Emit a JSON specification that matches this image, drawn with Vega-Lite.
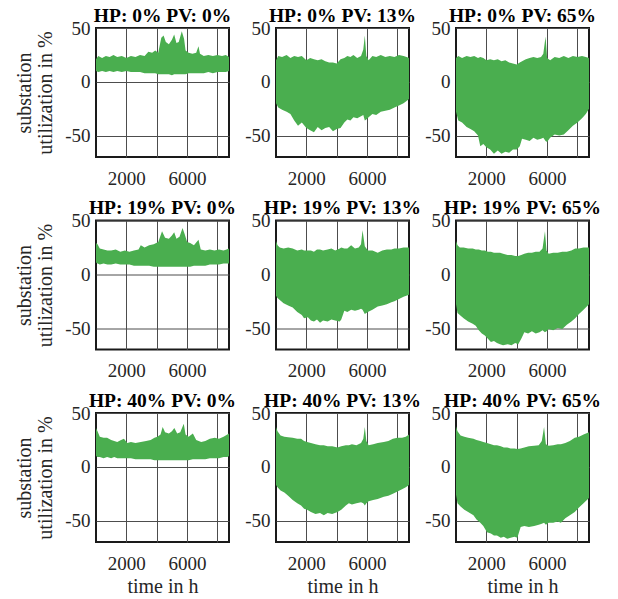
{
"$schema": "https://vega.github.io/schema/vega-lite/v6.json",
"padding": {"left": 13, "top": 4, "right": 5, "bottom": 3},
"background": "white",
"bounds": "flush",
"columns": 3,
"spacing": {"row": 63.5, "column": 47},
"datasets": {
"p1": [{"t":0,"hi":21,"lo":10},{"t":150,"hi":24,"lo":9},{"t":400,"hi":22,"lo":10},{"t":650,"hi":24,"lo":9},{"t":900,"hi":23,"lo":10},{"t":1150,"hi":25,"lo":9},{"t":1400,"hi":23,"lo":10},{"t":1700,"hi":24,"lo":9},{"t":2000,"hi":22,"lo":10},{"t":2300,"hi":24,"lo":9},{"t":2600,"hi":23,"lo":9},{"t":2900,"hi":25,"lo":9},{"t":3200,"hi":24,"lo":8},{"t":3450,"hi":28,"lo":8},{"t":3700,"hi":27,"lo":8},{"t":3900,"hi":29,"lo":8},{"t":4100,"hi":27,"lo":7},{"t":4300,"hi":41,"lo":7},{"t":4450,"hi":43,"lo":7},{"t":4600,"hi":37,"lo":7},{"t":4800,"hi":35,"lo":7},{"t":5000,"hi":39,"lo":6},{"t":5150,"hi":44,"lo":7},{"t":5300,"hi":36,"lo":7},{"t":5450,"hi":37,"lo":7},{"t":5650,"hi":47,"lo":7},{"t":5800,"hi":40,"lo":7},{"t":5900,"hi":29,"lo":7},{"t":6100,"hi":27,"lo":8},{"t":6350,"hi":26,"lo":8},{"t":6600,"hi":27,"lo":8},{"t":6750,"hi":33,"lo":8},{"t":6850,"hi":26,"lo":8},{"t":7100,"hi":24,"lo":8},{"t":7400,"hi":25,"lo":9},{"t":7700,"hi":24,"lo":8},{"t":8000,"hi":25,"lo":9},{"t":8300,"hi":24,"lo":9},{"t":8550,"hi":25,"lo":9},{"t":8760,"hi":23,"lo":10}],
"p2": [{"t":0,"hi":20,"lo":-20},{"t":150,"hi":24,"lo":-24},{"t":400,"hi":23,"lo":-26},{"t":700,"hi":25,"lo":-28},{"t":950,"hi":22,"lo":-30},{"t":1200,"hi":24,"lo":-36},{"t":1450,"hi":23,"lo":-41},{"t":1700,"hi":24,"lo":-38},{"t":2000,"hi":20,"lo":-43},{"t":2250,"hi":22,"lo":-45},{"t":2500,"hi":21,"lo":-47},{"t":2750,"hi":20,"lo":-42},{"t":3000,"hi":21,"lo":-45},{"t":3250,"hi":19,"lo":-43},{"t":3500,"hi":18,"lo":-42},{"t":3750,"hi":18,"lo":-46},{"t":4000,"hi":17,"lo":-44},{"t":4250,"hi":21,"lo":-43},{"t":4500,"hi":22,"lo":-38},{"t":4700,"hi":24,"lo":-35},{"t":4900,"hi":23,"lo":-36},{"t":5100,"hi":25,"lo":-33},{"t":5350,"hi":22,"lo":-34},{"t":5600,"hi":24,"lo":-32},{"t":5750,"hi":30,"lo":-31},{"t":5850,"hi":43,"lo":-36},{"t":5950,"hi":24,"lo":-35},{"t":6100,"hi":20,"lo":-33},{"t":6350,"hi":24,"lo":-30},{"t":6600,"hi":23,"lo":-31},{"t":6900,"hi":25,"lo":-28},{"t":7200,"hi":23,"lo":-27},{"t":7500,"hi":24,"lo":-26},{"t":7800,"hi":23,"lo":-24},{"t":8100,"hi":25,"lo":-22},{"t":8400,"hi":24,"lo":-20},{"t":8600,"hi":23,"lo":-18},{"t":8760,"hi":22,"lo":-16}],
"p3": [{"t":0,"hi":22,"lo":-28},{"t":150,"hi":24,"lo":-36},{"t":400,"hi":22,"lo":-38},{"t":700,"hi":24,"lo":-42},{"t":950,"hi":23,"lo":-44},{"t":1200,"hi":24,"lo":-46},{"t":1450,"hi":22,"lo":-50},{"t":1600,"hi":23,"lo":-60},{"t":1800,"hi":22,"lo":-58},{"t":2000,"hi":20,"lo":-61},{"t":2250,"hi":21,"lo":-63},{"t":2500,"hi":20,"lo":-67},{"t":2750,"hi":21,"lo":-64},{"t":3000,"hi":19,"lo":-67},{"t":3250,"hi":20,"lo":-65},{"t":3500,"hi":18,"lo":-66},{"t":3750,"hi":17,"lo":-63},{"t":4000,"hi":16,"lo":-63},{"t":4200,"hi":18,"lo":-60},{"t":4350,"hi":19,"lo":-53},{"t":4600,"hi":21,"lo":-54},{"t":4850,"hi":22,"lo":-55},{"t":5100,"hi":23,"lo":-52},{"t":5350,"hi":22,"lo":-54},{"t":5600,"hi":23,"lo":-53},{"t":5750,"hi":26,"lo":-52},{"t":5900,"hi":42,"lo":-55},{"t":6000,"hi":22,"lo":-56},{"t":6200,"hi":20,"lo":-52},{"t":6500,"hi":23,"lo":-49},{"t":6800,"hi":22,"lo":-50},{"t":7100,"hi":24,"lo":-49},{"t":7400,"hi":22,"lo":-45},{"t":7700,"hi":24,"lo":-41},{"t":8000,"hi":23,"lo":-38},{"t":8300,"hi":24,"lo":-34},{"t":8550,"hi":23,"lo":-30},{"t":8760,"hi":22,"lo":-25}],
"p4": [{"t":0,"hi":29,"lo":11},{"t":100,"hi":28,"lo":10},{"t":250,"hi":24,"lo":9},{"t":500,"hi":23,"lo":10},{"t":750,"hi":22,"lo":9},{"t":1000,"hi":22,"lo":9},{"t":1300,"hi":23,"lo":10},{"t":1600,"hi":21,"lo":9},{"t":1900,"hi":22,"lo":9},{"t":2200,"hi":21,"lo":9},{"t":2500,"hi":22,"lo":8},{"t":2800,"hi":23,"lo":8},{"t":2950,"hi":27,"lo":8},{"t":3200,"hi":25,"lo":8},{"t":3500,"hi":27,"lo":8},{"t":3800,"hi":28,"lo":7},{"t":4100,"hi":30,"lo":7},{"t":4350,"hi":40,"lo":7},{"t":4550,"hi":34,"lo":7},{"t":4800,"hi":33,"lo":7},{"t":5000,"hi":36,"lo":7},{"t":5150,"hi":39,"lo":7},{"t":5300,"hi":33,"lo":7},{"t":5500,"hi":35,"lo":7},{"t":5700,"hi":43,"lo":7},{"t":5850,"hi":37,"lo":7},{"t":6000,"hi":30,"lo":7},{"t":6200,"hi":29,"lo":7},{"t":6450,"hi":27,"lo":8},{"t":6750,"hi":32,"lo":8},{"t":6900,"hi":23,"lo":8},{"t":7200,"hi":22,"lo":8},{"t":7500,"hi":23,"lo":9},{"t":7800,"hi":22,"lo":9},{"t":8100,"hi":23,"lo":9},{"t":8400,"hi":22,"lo":10},{"t":8600,"hi":23,"lo":10},{"t":8760,"hi":24,"lo":10}],
"p5": [{"t":0,"hi":31,"lo":-20},{"t":100,"hi":27,"lo":-22},{"t":250,"hi":25,"lo":-24},{"t":500,"hi":24,"lo":-27},{"t":800,"hi":25,"lo":-29},{"t":1100,"hi":24,"lo":-31},{"t":1400,"hi":22,"lo":-35},{"t":1700,"hi":23,"lo":-38},{"t":1850,"hi":22,"lo":-41},{"t":2100,"hi":22,"lo":-40},{"t":2300,"hi":22,"lo":-43},{"t":2500,"hi":21,"lo":-44},{"t":2700,"hi":23,"lo":-42},{"t":2900,"hi":23,"lo":-45},{"t":3100,"hi":22,"lo":-43},{"t":3400,"hi":23,"lo":-44},{"t":3650,"hi":24,"lo":-42},{"t":3900,"hi":22,"lo":-43},{"t":4200,"hi":24,"lo":-44},{"t":4300,"hi":25,"lo":-42},{"t":4500,"hi":24,"lo":-34},{"t":4700,"hi":24,"lo":-35},{"t":4950,"hi":27,"lo":-33},{"t":5200,"hi":24,"lo":-34},{"t":5450,"hi":25,"lo":-33},{"t":5600,"hi":28,"lo":-32},{"t":5700,"hi":41,"lo":-33},{"t":5850,"hi":26,"lo":-37},{"t":6050,"hi":22,"lo":-35},{"t":6350,"hi":22,"lo":-33},{"t":6700,"hi":20,"lo":-30},{"t":7000,"hi":22,"lo":-29},{"t":7300,"hi":23,"lo":-28},{"t":7600,"hi":23,"lo":-26},{"t":7800,"hi":24,"lo":-25},{"t":8100,"hi":24,"lo":-23},{"t":8400,"hi":25,"lo":-21},{"t":8760,"hi":25,"lo":-19}],
"p6": [{"t":0,"hi":31,"lo":-28},{"t":100,"hi":27,"lo":-36},{"t":250,"hi":25,"lo":-38},{"t":500,"hi":25,"lo":-41},{"t":800,"hi":24,"lo":-44},{"t":1100,"hi":24,"lo":-46},{"t":1300,"hi":23,"lo":-48},{"t":1500,"hi":23,"lo":-52},{"t":1700,"hi":22,"lo":-55},{"t":1900,"hi":22,"lo":-57},{"t":2100,"hi":21,"lo":-60},{"t":2300,"hi":21,"lo":-63},{"t":2500,"hi":20,"lo":-62},{"t":2700,"hi":20,"lo":-64},{"t":2900,"hi":20,"lo":-65},{"t":3100,"hi":19,"lo":-66},{"t":3400,"hi":18,"lo":-65},{"t":3650,"hi":18,"lo":-66},{"t":3900,"hi":17,"lo":-64},{"t":4100,"hi":17,"lo":-65},{"t":4300,"hi":18,"lo":-60},{"t":4500,"hi":19,"lo":-54},{"t":4750,"hi":20,"lo":-55},{"t":5000,"hi":20,"lo":-53},{"t":5250,"hi":21,"lo":-55},{"t":5500,"hi":21,"lo":-54},{"t":5700,"hi":24,"lo":-52},{"t":5860,"hi":40,"lo":-54},{"t":5960,"hi":22,"lo":-53},{"t":6100,"hi":19,"lo":-51},{"t":6400,"hi":20,"lo":-52},{"t":6700,"hi":20,"lo":-50},{"t":7000,"hi":21,"lo":-51},{"t":7300,"hi":21,"lo":-47},{"t":7600,"hi":22,"lo":-44},{"t":7850,"hi":24,"lo":-41},{"t":8100,"hi":24,"lo":-37},{"t":8400,"hi":25,"lo":-33},{"t":8760,"hi":25,"lo":-28}],
"p7": [{"t":0,"hi":36,"lo":10},{"t":100,"hi":33,"lo":9},{"t":250,"hi":28,"lo":9},{"t":500,"hi":27,"lo":8},{"t":730,"hi":27,"lo":9},{"t":1000,"hi":25,"lo":8},{"t":1200,"hi":24,"lo":9},{"t":1400,"hi":23,"lo":8},{"t":1650,"hi":25,"lo":8},{"t":1840,"hi":26,"lo":8},{"t":2060,"hi":22,"lo":8},{"t":2300,"hi":23,"lo":8},{"t":2600,"hi":22,"lo":7},{"t":2950,"hi":23,"lo":7},{"t":3300,"hi":24,"lo":7},{"t":3600,"hi":25,"lo":7},{"t":3850,"hi":27,"lo":6},{"t":4050,"hi":28,"lo":6},{"t":4250,"hi":30,"lo":6},{"t":4390,"hi":37,"lo":6},{"t":4550,"hi":32,"lo":6},{"t":4800,"hi":31,"lo":6},{"t":5000,"hi":33,"lo":6},{"t":5160,"hi":36,"lo":6},{"t":5350,"hi":31,"lo":6},{"t":5550,"hi":32,"lo":6},{"t":5780,"hi":40,"lo":6},{"t":5900,"hi":30,"lo":6},{"t":6100,"hi":28,"lo":6},{"t":6380,"hi":31,"lo":7},{"t":6600,"hi":25,"lo":7},{"t":6930,"hi":23,"lo":7},{"t":7200,"hi":24,"lo":7},{"t":7500,"hi":26,"lo":8},{"t":7820,"hi":27,"lo":8},{"t":8100,"hi":26,"lo":8},{"t":8400,"hi":28,"lo":9},{"t":8650,"hi":30,"lo":9},{"t":8760,"hi":31,"lo":10}],
"p8": [{"t":0,"hi":37,"lo":-17},{"t":100,"hi":33,"lo":-19},{"t":300,"hi":29,"lo":-22},{"t":550,"hi":28,"lo":-24},{"t":800,"hi":27.5,"lo":-27},{"t":1100,"hi":27,"lo":-31},{"t":1400,"hi":26,"lo":-34},{"t":1650,"hi":26,"lo":-36},{"t":1850,"hi":24,"lo":-39},{"t":2050,"hi":23,"lo":-40},{"t":2300,"hi":22,"lo":-42},{"t":2600,"hi":21,"lo":-44},{"t":2900,"hi":20,"lo":-43},{"t":3150,"hi":20,"lo":-45},{"t":3400,"hi":19,"lo":-43},{"t":3700,"hi":19,"lo":-44},{"t":4050,"hi":18,"lo":-42},{"t":4300,"hi":19,"lo":-40},{"t":4600,"hi":20,"lo":-36},{"t":4800,"hi":20,"lo":-34},{"t":5000,"hi":21,"lo":-35},{"t":5300,"hi":20,"lo":-34},{"t":5600,"hi":22,"lo":-33},{"t":5750,"hi":26,"lo":-34},{"t":5850,"hi":37,"lo":-36},{"t":5950,"hi":24,"lo":-34},{"t":6100,"hi":20,"lo":-32},{"t":6400,"hi":21,"lo":-31},{"t":6700,"hi":22,"lo":-30},{"t":7100,"hi":23,"lo":-28},{"t":7400,"hi":24,"lo":-27},{"t":7700,"hi":26,"lo":-25},{"t":8000,"hi":27,"lo":-23},{"t":8300,"hi":27,"lo":-21},{"t":8550,"hi":28,"lo":-19},{"t":8760,"hi":30,"lo":-17}],
"p9": [{"t":0,"hi":37.6,"lo":-26},{"t":100,"hi":33,"lo":-34},{"t":300,"hi":29,"lo":-37},{"t":550,"hi":28,"lo":-40},{"t":800,"hi":27,"lo":-42},{"t":1150,"hi":26,"lo":-45},{"t":1350,"hi":25,"lo":-49},{"t":1600,"hi":24,"lo":-52},{"t":1800,"hi":23,"lo":-55},{"t":2040,"hi":22,"lo":-61},{"t":2300,"hi":21,"lo":-62},{"t":2500,"hi":20,"lo":-64},{"t":2700,"hi":20,"lo":-64},{"t":2950,"hi":19,"lo":-66},{"t":3150,"hi":18,"lo":-65},{"t":3370,"hi":18,"lo":-67},{"t":3600,"hi":17,"lo":-66},{"t":3850,"hi":17,"lo":-65},{"t":4040,"hi":16.5,"lo":-66},{"t":4260,"hi":17,"lo":-56},{"t":4500,"hi":18,"lo":-55},{"t":4800,"hi":19,"lo":-56},{"t":5150,"hi":19.6,"lo":-55},{"t":5450,"hi":20,"lo":-54},{"t":5650,"hi":24,"lo":-53},{"t":5800,"hi":37,"lo":-52},{"t":5920,"hi":21,"lo":-54},{"t":6100,"hi":19.6,"lo":-52},{"t":6400,"hi":20,"lo":-52},{"t":6700,"hi":21,"lo":-51},{"t":6910,"hi":21,"lo":-52},{"t":7200,"hi":22,"lo":-48},{"t":7500,"hi":24,"lo":-45},{"t":7820,"hi":27,"lo":-42},{"t":8100,"hi":28,"lo":-38},{"t":8400,"hi":30,"lo":-34},{"t":8760,"hi":32,"lo":-29}]
},
"concat": [
{"title": "HP: 0% PV: 0%", "data": {"name": "p1"}, "width": 133, "height": 129, "mark": {"type": "area", "color": "#4aae4f", "opacity": 1},
 "encoding": {"x": {"field": "t", "type": "quantitative", "scale": {"domain": [0, 8760], "nice": false, "zero": false}, "axis": {"values": [2000, 4000, 6000, 8000], "labelExpr": "datum.value == 2000 || datum.value == 6000 ? '' + datum.value : ''", "title": null}},
  "y": {"field": "hi", "type": "quantitative", "scale": {"domain": [-70, 50], "nice": false}, "axis": {"values": [-50, 0, 50], "labelExpr": "'' + datum.value", "title": ["substation", "utilization in %"]}}, "y2": {"field": "lo"}}},
{"title": "HP: 0% PV: 13%", "data": {"name": "p2"}, "width": 133, "height": 129, "mark": {"type": "area", "color": "#4aae4f", "opacity": 1},
 "encoding": {"x": {"field": "t", "type": "quantitative", "scale": {"domain": [0, 8760], "nice": false, "zero": false}, "axis": {"values": [2000, 4000, 6000, 8000], "labelExpr": "datum.value == 2000 || datum.value == 6000 ? '' + datum.value : ''", "title": null}},
  "y": {"field": "hi", "type": "quantitative", "scale": {"domain": [-70, 50], "nice": false}, "axis": {"values": [-50, 0, 50], "labelExpr": "'' + datum.value", "title": null}}, "y2": {"field": "lo"}}},
{"title": "HP: 0% PV: 65%", "data": {"name": "p3"}, "width": 133, "height": 129, "mark": {"type": "area", "color": "#4aae4f", "opacity": 1},
 "encoding": {"x": {"field": "t", "type": "quantitative", "scale": {"domain": [0, 8760], "nice": false, "zero": false}, "axis": {"values": [2000, 4000, 6000, 8000], "labelExpr": "datum.value == 2000 || datum.value == 6000 ? '' + datum.value : ''", "title": null}},
  "y": {"field": "hi", "type": "quantitative", "scale": {"domain": [-70, 50], "nice": false}, "axis": {"values": [-50, 0, 50], "labelExpr": "'' + datum.value", "title": null}}, "y2": {"field": "lo"}}},
{"title": "HP: 19% PV: 0%", "data": {"name": "p4"}, "width": 133, "height": 129, "mark": {"type": "area", "color": "#4aae4f", "opacity": 1},
 "encoding": {"x": {"field": "t", "type": "quantitative", "scale": {"domain": [0, 8760], "nice": false, "zero": false}, "axis": {"values": [2000, 4000, 6000, 8000], "labelExpr": "datum.value == 2000 || datum.value == 6000 ? '' + datum.value : ''", "title": null}},
  "y": {"field": "hi", "type": "quantitative", "scale": {"domain": [-70, 50], "nice": false}, "axis": {"values": [-50, 0, 50], "labelExpr": "'' + datum.value", "title": ["substation", "utilization in %"]}}, "y2": {"field": "lo"}}},
{"title": "HP: 19% PV: 13%", "data": {"name": "p5"}, "width": 133, "height": 129, "mark": {"type": "area", "color": "#4aae4f", "opacity": 1},
 "encoding": {"x": {"field": "t", "type": "quantitative", "scale": {"domain": [0, 8760], "nice": false, "zero": false}, "axis": {"values": [2000, 4000, 6000, 8000], "labelExpr": "datum.value == 2000 || datum.value == 6000 ? '' + datum.value : ''", "title": null}},
  "y": {"field": "hi", "type": "quantitative", "scale": {"domain": [-70, 50], "nice": false}, "axis": {"values": [-50, 0, 50], "labelExpr": "'' + datum.value", "title": null}}, "y2": {"field": "lo"}}},
{"title": "HP: 19% PV: 65%", "data": {"name": "p6"}, "width": 133, "height": 129, "mark": {"type": "area", "color": "#4aae4f", "opacity": 1},
 "encoding": {"x": {"field": "t", "type": "quantitative", "scale": {"domain": [0, 8760], "nice": false, "zero": false}, "axis": {"values": [2000, 4000, 6000, 8000], "labelExpr": "datum.value == 2000 || datum.value == 6000 ? '' + datum.value : ''", "title": null}},
  "y": {"field": "hi", "type": "quantitative", "scale": {"domain": [-70, 50], "nice": false}, "axis": {"values": [-50, 0, 50], "labelExpr": "'' + datum.value", "title": null}}, "y2": {"field": "lo"}}},
{"title": "HP: 40% PV: 0%", "data": {"name": "p7"}, "width": 133, "height": 129, "mark": {"type": "area", "color": "#4aae4f", "opacity": 1},
 "encoding": {"x": {"field": "t", "type": "quantitative", "scale": {"domain": [0, 8760], "nice": false, "zero": false}, "axis": {"values": [2000, 4000, 6000, 8000], "labelExpr": "datum.value == 2000 || datum.value == 6000 ? '' + datum.value : ''", "title": "time in h"}},
  "y": {"field": "hi", "type": "quantitative", "scale": {"domain": [-70, 50], "nice": false}, "axis": {"values": [-50, 0, 50], "labelExpr": "'' + datum.value", "title": ["substation", "utilization in %"]}}, "y2": {"field": "lo"}}},
{"title": "HP: 40% PV: 13%", "data": {"name": "p8"}, "width": 133, "height": 129, "mark": {"type": "area", "color": "#4aae4f", "opacity": 1},
 "encoding": {"x": {"field": "t", "type": "quantitative", "scale": {"domain": [0, 8760], "nice": false, "zero": false}, "axis": {"values": [2000, 4000, 6000, 8000], "labelExpr": "datum.value == 2000 || datum.value == 6000 ? '' + datum.value : ''", "title": "time in h"}},
  "y": {"field": "hi", "type": "quantitative", "scale": {"domain": [-70, 50], "nice": false}, "axis": {"values": [-50, 0, 50], "labelExpr": "'' + datum.value", "title": null}}, "y2": {"field": "lo"}}},
{"title": "HP: 40% PV: 65%", "data": {"name": "p9"}, "width": 133, "height": 129, "mark": {"type": "area", "color": "#4aae4f", "opacity": 1},
 "encoding": {"x": {"field": "t", "type": "quantitative", "scale": {"domain": [0, 8760], "nice": false, "zero": false}, "axis": {"values": [2000, 4000, 6000, 8000], "labelExpr": "datum.value == 2000 || datum.value == 6000 ? '' + datum.value : ''", "title": "time in h"}},
  "y": {"field": "hi", "type": "quantitative", "scale": {"domain": [-70, 50], "nice": false}, "axis": {"values": [-50, 0, 50], "labelExpr": "'' + datum.value", "title": null}}, "y2": {"field": "lo"}}}
],
"config": {
 "view": {"stroke": "#1a1a1a", "strokeWidth": 2},
 "font": "Liberation Serif",
 "title": {"font": "Liberation Serif", "fontSize": 19.5, "fontWeight": "bold", "color": "#000000", "anchor": "middle", "baseline": "alphabetic", "offset": -7},
 "axis": {"labelFont": "Liberation Serif", "labelFontSize": 19, "labelColor": "#262626", "titleFont": "Liberation Serif", "titleFontSize": 20, "titleFontWeight": "normal", "titleColor": "#262626", "domain": false, "ticks": false, "grid": true, "gridColor": "#4d4d4d", "gridWidth": 1, "gridOpacity": 1, "labelFlush": false, "labelOverlap": false},
 "axisX": {"labelPadding": 12, "titlePadding": 3},
 "axisY": {"labelPadding": 6, "titlePadding": 9, "titleLineHeight": 21}
}
}
